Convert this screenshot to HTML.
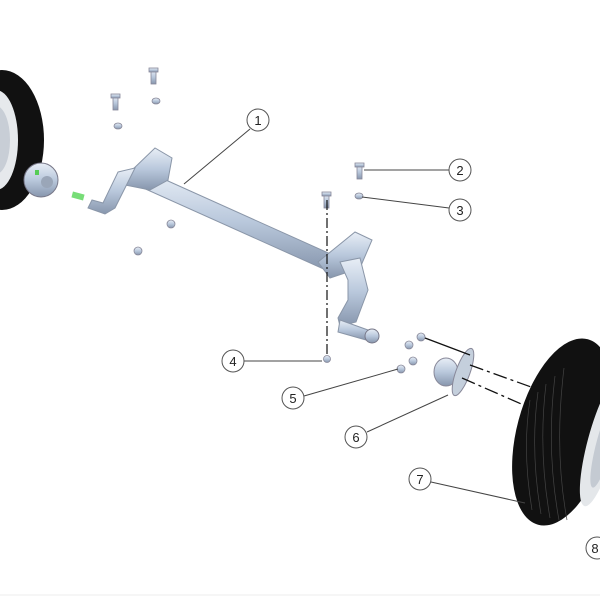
<!DOCTYPE html>
<html><head><style>
html,body{margin:0;padding:0;background:#fff;width:600px;height:600px;overflow:hidden}
svg{display:block}
text{font-family:"Liberation Sans",sans-serif;font-size:13px;fill:#222;text-anchor:middle}
</style></head><body>
<svg width="600" height="600" viewBox="0 0 600 600">
<defs>
<linearGradient id="m" x1="0" y1="0" x2="0" y2="1">
<stop offset="0" stop-color="#e8eef6"/><stop offset="0.5" stop-color="#b9c8dc"/><stop offset="1" stop-color="#8796ad"/>
</linearGradient>
</defs>
<!-- left wheel -->
<ellipse cx="2" cy="140" rx="42" ry="70" fill="#111"/>
<ellipse cx="-4" cy="140" rx="22" ry="50" fill="#e6e9ec"/>
<ellipse cx="-4" cy="140" rx="14" ry="34" fill="#c8ced6"/>
<!-- left hub -->
<ellipse cx="41" cy="180" rx="17" ry="17" fill="url(#m)" stroke="#778" stroke-width="1"/>
<circle cx="47" cy="182" r="6" fill="#9aa6b8"/>
<rect x="35" y="170" width="4" height="5" fill="#5c5"/>
<!-- bolts -->
<g fill="url(#m)" stroke="#889" stroke-width="0.8">
<rect x="151" y="70" width="5" height="14"/><rect x="149" y="68" width="9" height="4"/>
<rect x="113" y="96" width="5" height="14"/><rect x="111" y="94" width="9" height="4"/>
<rect x="357" y="165" width="5" height="14"/><rect x="355" y="163" width="9" height="4"/>
<rect x="324" y="194" width="5" height="14"/><rect x="322" y="192" width="9" height="4"/>
<ellipse cx="156" cy="101" rx="4" ry="3"/><ellipse cx="118" cy="126" rx="4" ry="3"/>
<ellipse cx="359" cy="196" rx="4" ry="3"/>
<circle cx="171" cy="224" r="4"/><circle cx="138" cy="251" r="4"/>
<circle cx="327" cy="359" r="3.5"/>
<circle cx="421" cy="337" r="4"/><circle cx="409" cy="345" r="4"/><circle cx="413" cy="361" r="4"/><circle cx="401" cy="369" r="4"/>
</g>
<!-- axle tube -->
<path d="M148 172 L335 256 L328 271 L141 187 Z" fill="url(#m)" stroke="#8a96a8" stroke-width="1"/>
<path d="M130 172 L155 148 L172 158 L168 180 L150 190 L125 185 Z" fill="url(#m)" stroke="#8a96a8"/>
<path d="M118 172 L135 168 L115 208 L105 214 L88 208 L92 200 L103 203 Z" fill="url(#m)" stroke="#8a96a8"/>
<rect x="72" y="193" width="12" height="6" fill="#7d7" transform="rotate(15 78 196)"/>
<path d="M318 262 L355 232 L372 240 L360 268 L330 278 Z" fill="url(#m)" stroke="#8a96a8"/>
<path d="M340 262 L360 258 L368 290 L356 322 L340 326 L338 318 L348 300 L348 280 Z" fill="url(#m)" stroke="#8a96a8"/>
<path d="M340 320 L368 330 L366 340 L338 332 Z" fill="url(#m)" stroke="#8a96a8"/>
<circle cx="372" cy="336" r="7" fill="url(#m)" stroke="#778"/>
<line x1="327" y1="200" x2="327" y2="356" stroke="#111" stroke-width="1.2" stroke-dasharray="10,3,2,3"/>
<!-- hub 6 -->
<ellipse cx="446" cy="372" rx="12" ry="14" fill="url(#m)" stroke="#889"/>
<ellipse cx="463" cy="372" rx="7" ry="25" fill="#c4cfdc" stroke="#889" transform="rotate(20 463 372)"/>
<line x1="470" y1="365" x2="545" y2="392" stroke="#111" stroke-width="1.3" stroke-dasharray="14,4,3,4"/>
<line x1="462" y1="378" x2="535" y2="410" stroke="#111" stroke-width="1.3" stroke-dasharray="14,4,3,4"/>
<line x1="425" y1="338" x2="470" y2="355" stroke="#111" stroke-width="1.3"/>
<!-- right wheel -->
<g transform="rotate(15 563 432)">
<ellipse cx="563" cy="432" rx="46" ry="96" fill="#111"/>
<ellipse cx="603" cy="432" rx="14" ry="66" fill="#e4e7ea"/>
<ellipse cx="606" cy="432" rx="8" ry="46" fill="#c4cad2"/>
</g>
<g stroke="#444" stroke-width="0.7" fill="none">
<path d="M530 400 Q522 450 532 510"/><path d="M538 392 Q530 450 541 514"/><path d="M546 384 Q538 450 550 518"/><path d="M555 376 Q546 450 559 520"/><path d="M564 368 Q554 450 567 520"/>
</g>
<g stroke="#444" stroke-width="1">
<line x1="250" y1="129" x2="184" y2="184"/>
<line x1="449" y1="170" x2="364" y2="170"/>
<line x1="449" y1="208" x2="362" y2="197"/>
<line x1="244" y1="361" x2="322" y2="361"/>
<line x1="304" y1="396" x2="398" y2="369"/>
<line x1="367" y1="432" x2="448" y2="395"/>
<line x1="431" y1="482" x2="525" y2="503"/>
</g>
<g fill="#fff" stroke="#555" stroke-width="1">
<circle cx="258" cy="120" r="11"/><circle cx="460" cy="170" r="11"/><circle cx="460" cy="210" r="11"/>
<circle cx="233" cy="361" r="11"/><circle cx="293" cy="398" r="11"/><circle cx="356" cy="437" r="11"/>
<circle cx="420" cy="479" r="11"/><circle cx="597" cy="548" r="11"/>
</g>
<text x="258" y="125">1</text><text x="460" y="175">2</text><text x="460" y="215">3</text>
<text x="233" y="366">4</text><text x="293" y="403">5</text><text x="356" y="442">6</text>
<text x="420" y="484">7</text><text x="595" y="553">8</text>
<line x1="0" y1="595" x2="600" y2="595" stroke="#eee"/>
</svg>
</body></html>
